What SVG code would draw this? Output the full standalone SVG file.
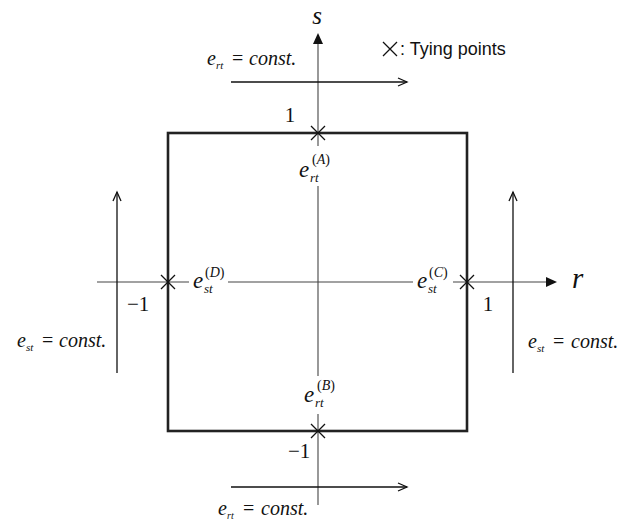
<svg xmlns="http://www.w3.org/2000/svg" width="634" height="520" viewBox="0 0 634 520">
<style>
.ax{stroke:#444;stroke-width:1.1;fill:none}
.ar{stroke:#111;stroke-width:1.3;fill:none}
.sq{stroke:#222;stroke-width:2.6;fill:none}
.tx{stroke:#111;stroke-width:1.3;fill:none}
.m{font-family:"Liberation Serif","Times New Roman",serif;fill:#111}
.i{font-style:italic}
.bg{fill:#fff;stroke:none}
.leg{font-family:"Liberation Sans",Arial,sans-serif;font-size:18px;fill:#111}
</style>
<defs>
<marker id="open" markerWidth="12" markerHeight="10" refX="10" refY="5" orient="auto" markerUnits="userSpaceOnUse">
<path d="M1,1 L10,5 L1,9" fill="none" stroke="#111" stroke-width="1.3"/>
</marker>
</defs>
<rect width="634" height="520" fill="#fff"/>

<g id="connectors">
<line class="ax" x1="318" y1="505" x2="318" y2="44"/>
<polygon points="318,33 313,44 323,44" fill="#111"/>
<line class="ax" x1="97" y1="282" x2="547" y2="282"/>
<polygon points="557,282 546,277 546,287" fill="#111"/>
<line class="ar" x1="231" y1="82" x2="407" y2="82" marker-end="url(#open)"/>
<line class="ar" x1="231" y1="487" x2="407" y2="487" marker-end="url(#open)"/>
<line class="ar" x1="117" y1="373" x2="117" y2="192" marker-end="url(#open)"/>
<line class="ar" x1="513" y1="373" x2="513" y2="192" marker-end="url(#open)"/>
</g>

<g id="square">
<rect class="sq" x="168" y="133" width="299" height="298"/>
</g>

<g id="axis-labels">
<text class="m i" x="317" y="24" font-size="25" text-anchor="middle">s</text>
<text class="m i" x="572" y="288" font-size="29">r</text>
<text class="m" x="290" y="122" font-size="21" text-anchor="middle">1</text>
<text class="m" x="127" y="311" font-size="21">−1</text>
<text class="m" x="488" y="311" font-size="21" text-anchor="middle">1</text>
<text class="m" x="288" y="458" font-size="21">−1</text>
</g>

<g id="tying-A">
<rect class="bg" x="297" y="146" width="40" height="40"/>
<path class="tx" d="M311,126 L325,140 M325,126 L311,140"/>
<text class="m i" x="299" y="177" font-size="23">e</text>
<text class="m i" x="310" y="182" font-size="13">rt</text>
<text class="m" x="312" y="164" font-size="14">(<tspan class="i">A</tspan>)</text>
</g>

<g id="tying-B">
<rect class="bg" x="300" y="376" width="38" height="38"/>
<path class="tx" d="M311,424 L325,438 M325,424 L311,438"/>
<text class="m i" x="304" y="402" font-size="23">e</text>
<text class="m i" x="315" y="407" font-size="13">rt</text>
<text class="m" x="317" y="390" font-size="14">(<tspan class="i">B</tspan>)</text>
</g>

<g id="tying-D">
<rect class="bg" x="189" y="266" width="39" height="32"/>
<path class="tx" d="M161,275 L175,289 M175,275 L161,289"/>
<text class="m i" x="193" y="288" font-size="23">e</text>
<text class="m i" x="204" y="293" font-size="13">st</text>
<text class="m" x="205" y="277" font-size="14">(<tspan class="i">D</tspan>)</text>
</g>

<g id="tying-C">
<rect class="bg" x="413" y="266" width="40" height="32"/>
<path class="tx" d="M460,275 L474,289 M474,275 L460,289"/>
<text class="m i" x="417" y="288" font-size="23">e</text>
<text class="m i" x="428" y="293" font-size="13">st</text>
<text class="m" x="429" y="277" font-size="14">(<tspan class="i">C</tspan>)</text>
</g>

<g id="label-top">
<text class="m i" x="207" y="65" font-size="20">e</text>
<text class="m i" x="216" y="69" font-size="11">rt</text>
<text class="m" x="232" y="65" font-size="20">=</text>
<text class="m i" x="249" y="65" font-size="20">const.</text>
</g>

<g id="label-bottom">
<text class="m i" x="218" y="515" font-size="20">e</text>
<text class="m i" x="227" y="519" font-size="10">rt</text>
<text class="m" x="243" y="515" font-size="20">=</text>
<text class="m i" x="261" y="515" font-size="20">const.</text>
</g>

<g id="label-left">
<text class="m i" x="17" y="347" font-size="20">e</text>
<text class="m i" x="26" y="351" font-size="11">st</text>
<text class="m" x="42" y="347" font-size="20">=</text>
<text class="m i" x="59" y="347" font-size="20">const.</text>
</g>

<g id="label-right">
<text class="m i" x="528" y="348" font-size="20">e</text>
<text class="m i" x="537" y="352" font-size="11">st</text>
<text class="m" x="553" y="348" font-size="20">=</text>
<text class="m i" x="571" y="348" font-size="20">const.</text>
</g>

<g id="legend">
<path class="tx" d="M383,42 L397,56 M397,42 L383,56" stroke-width="1.1"/>
<text class="leg" x="400" y="55">: Tying points</text>
</g>
</svg>
